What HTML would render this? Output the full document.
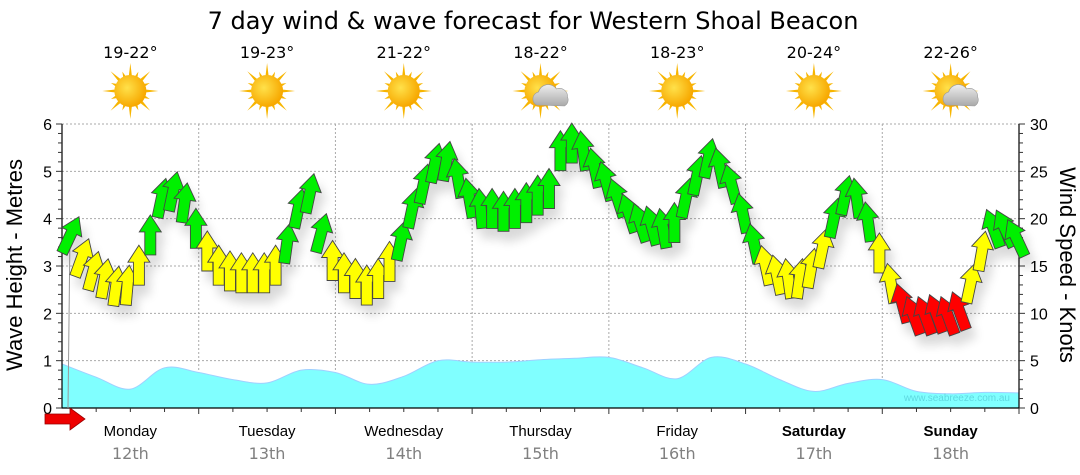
<!DOCTYPE html>
<html><head><meta charset="utf-8">
<style>
html,body{margin:0;padding:0;background:#fff;width:1080px;height:475px;overflow:hidden}
svg{display:block}
text{font-family:"Liberation Sans",sans-serif}
.dv{font-family:"DejaVu Sans","Liberation Sans",sans-serif}
</style></head>
<body>
<svg id="chart" width="1080" height="475" xmlns="http://www.w3.org/2000/svg">
<defs>
<radialGradient id="sunG" cx="40%" cy="40%" r="60%"><stop offset="0" stop-color="#ffe14a"/><stop offset="1" stop-color="#f7a800"/></radialGradient>
<linearGradient id="cloudG" x1="0" y1="0" x2="0" y2="1"><stop offset="0" stop-color="#eeeeee"/><stop offset="1" stop-color="#a9a9a9"/></linearGradient>
<filter id="sh" x="-50%" y="-50%" width="200%" height="200%"><feGaussianBlur in="SourceAlpha" stdDeviation="5"/><feOffset dx="5" dy="10"/><feComponentTransfer><feFuncA type="linear" slope="0.15"/></feComponentTransfer><feMerge><feMergeNode/><feMergeNode in="SourceGraphic"/></feMerge></filter>
</defs>
<text class="dv" x="533" y="29" font-size="24" text-anchor="middle" fill="#000">7 day wind &amp; wave forecast for Western Shoal Beacon</text>
<g id="grid"></g>
<g id="wave"></g>
<text x="1010" y="401" font-size="10" text-anchor="end" fill="#5fd8e0">www.seabreeze.com.au</text>
<g id="axes"></g>
<g id="wind" filter="url(#sh)"></g>
<g id="topg"></g>
<text transform="translate(22,265) rotate(-90)" font-size="22" text-anchor="middle">Wave Height - Metres</text>
<text transform="translate(1060,265) rotate(90)" font-size="22" text-anchor="middle">Wind Speed - Knots</text>
<polygon points="45,414 70,414 70,408 85,419 70,430 70,424 45,424" fill="#e00" stroke="#900" stroke-width="0.8"/>
</svg>
<script>
const days=["Monday","Tuesday","Wednesday","Thursday","Friday","Saturday","Sunday"];
const dates=["12th","13th","14th","15th","16th","17th","18th"];
const temps=["19-22°","19-23°","21-22°","18-22°","18-23°","20-24°","22-26°"];
const cloudy=[false,false,false,true,false,false,true];
const waveH=[0.93,0.65,0.4,0.85,0.75,0.6,0.53,0.8,0.75,0.5,0.67,1.0,0.97,0.97,1.02,1.05,1.07,0.85,0.62,1.07,0.93,0.6,0.35,0.52,0.6,0.35,0.3,0.33,0.32];
const windKn=[18.6,16.2,14.8,14,13.2,13.3,15.4,18.6,22.5,23.2,22,19.3,
16.9,15.4,14.8,14.6,14.6,14.6,15.4,17.7,21.4,23,18.8,15.9,
14.6,14,13.3,14,15.8,18,21.4,24,26.2,26.4,24.6,22.5,
21.4,21.4,21.1,21.4,22,22.8,23.5,27.5,28.3,27.5,25.7,24.3,
22.5,20.9,19.9,19.6,19.3,19.9,22.5,24.9,26.7,25.7,24,20.9,
17.7,15.4,14.4,14,14,15.1,17.2,20.4,22.8,22.5,20,16.7,
13.5,11.4,10.1,10.1,10.3,10.1,10.6,13.5,16.9,19.3,19.3,18.3];
const windDir=[25,20,15,10,8,5,0,0,12,12,8,0,
0,0,0,0,0,0,0,8,12,12,15,0,
0,0,0,0,0,12,12,12,12,10,-10,-10,
-5,0,0,0,0,0,0,0,0,-8,-12,-15,
-18,-18,-18,-15,-10,0,12,12,12,-12,-15,-12,
-12,-12,-12,-8,8,10,12,12,12,-8,-8,0,
-10,-15,-20,-20,-20,-20,-20,12,10,-20,-25,-25];
const waveMax=6, windMax=30;
(function(){
const X0=62, X1=1019, Y0=408, Y1=124;
const dayW=(X1-X0)/7;
const yW=v=>Y0-(v/waveMax)*(Y0-Y1);
const yK=v=>Y0-(v/windMax)*(Y0-Y1);
const xH=h=>X0+h/24*dayW;
const NS="http://www.w3.org/2000/svg";
function mk(tag,attrs,parent){const e=document.createElementNS(NS,tag);for(const k in attrs)e.setAttribute(k,attrs[k]);parent.appendChild(e);return e;}
const grid=document.getElementById('grid'),axes=document.getElementById('axes'),wave=document.getElementById('wave'),wind=document.getElementById('wind'),topg=document.getElementById('topg');
for(let v=1;v<=6;v++){const l=mk('line',{x1:X0,x2:X1,y1:yW(v),y2:yW(v),stroke:'#aaa','stroke-dasharray':'2,2','stroke-width':1},grid);

}
for(let d=1;d<7;d++){const l=mk('line',{x1:X0+d*dayW,x2:X0+d*dayW,y1:Y1,y2:Y0,stroke:'#aaa','stroke-dasharray':'2,2','stroke-width':1},grid);

}
// smooth wave path (Catmull-Rom)
const pts=waveH.map((v,i)=>[xH(i*6),yW(v)]);
let d='M'+X0+','+Y0+' L'+pts[0][0]+','+pts[0][1];
for(let i=0;i<pts.length-1;i++){const p0=pts[Math.max(0,i-1)],p1=pts[i],p2=pts[i+1],p3=pts[Math.min(pts.length-1,i+2)];
const c1=[p1[0]+(p2[0]-p0[0])/6,p1[1]+(p2[1]-p0[1])/6],c2=[p2[0]-(p3[0]-p1[0])/6,p2[1]-(p3[1]-p1[1])/6];
d+=` C${c1[0].toFixed(1)},${c1[1].toFixed(1)} ${c2[0].toFixed(1)},${c2[1].toFixed(1)} ${p2[0].toFixed(1)},${p2[1].toFixed(1)}`;}
d+=' L'+X1+','+Y0+' Z';
const wp=mk('path',{d:d,fill:'#80ffff',stroke:'#9fd0ff','stroke-width':1},wave);


const ax=mk('path',{d:`M${X0},${Y1} V${Y0} H${X1} V${Y1}`,fill:'none',stroke:'#000','stroke-width':1.2},axes);


for(let v=0;v<=30;v++){const y=Y0-v/30*(Y0-Y1);const maj=v%5==0;
mk('line',{x1:X0-(maj?6:4),x2:X0,y1:y,y2:y,stroke:'#333','stroke-width':1},axes);
mk('line',{x1:X1,x2:X1+(maj?6:4),y1:y,y2:y,stroke:'#333','stroke-width':1},axes);}
for(let v=0;v<=6;v++){const t=mk('text',{x:X0-10,y:yW(v)+6,'font-size':16,'text-anchor':'end'},axes);t.textContent=v;

}
for(let v=0;v<=30;v+=5){const t=mk('text',{x:X1+11,y:yK(v)+6,'font-size':16},axes);t.textContent=v;

}
for(let h=6;h<=168;h+=6){const x=xH(h);mk('line',{x1:x,x2:x,y1:Y0,y2:Y0+(h%24==0?6:4),stroke:'#333','stroke-width':1},axes);}
days.forEach((nm,i)=>{const cx=X0+(i+0.5)*dayW;const we=i>=5;
const t=mk('text',{x:cx,y:436,'font-size':15,'text-anchor':'middle','font-weight':we?'bold':'normal'},axes);t.textContent=nm;


const t2=mk('text',{x:cx,y:459,'font-size':16,'text-anchor':'middle',fill:'#808080','class':'dv'},axes);t2.textContent=dates[i];


const t3=mk('text',{x:cx,y:58,'font-size':16,'text-anchor':'middle','class':'dv'},topg);t3.textContent=temps[i];


const g=mk('g',{transform:`translate(${cx},91)`},topg);


for(let a=0;a<16;a++){const ang=a*22.5*Math.PI/180;const L=a%2?21:28;
mk('polygon',{points:`${Math.cos(ang)*L},${Math.sin(ang)*L} ${Math.cos(ang+0.12)*14},${Math.sin(ang+0.12)*14} ${Math.cos(ang-0.12)*14},${Math.sin(ang-0.12)*14}`,fill:'#f7b500'},g);}
mk('circle',{r:16,fill:'url(#sunG)'},g);
if(cloudy[i]){mk('path',{d:'M-4,14 a7,7 0 0 1 2,-13 a10,10 0 0 1 18,-3 a8,8 0 0 1 11,8 a7,7 0 0 1 -3,9 Z',fill:'url(#cloudG)',stroke:'#999','stroke-width':0.6},g);}
});
const gl=mk('polyline',{points:`${X0+6},${Y0} ${xH(0)+8},${yK(windKn[0])}`,fill:'none',stroke:'#999','stroke-width':1},axes);


windKn.forEach((v,i)=>{const x=xH(1.5+i*2),y=yK(v)+3;
const col=v<11.5?'#ff0000':(v<17.5?'#ffff00':'#00f000');
const p=mk('polygon',{points:'-5.5,20 -5.5,-3 -11,-3 0,-20 11,-3 5.5,-3 5.5,20',fill:col,stroke:'#444','stroke-width':0.9,transform:`translate(${x.toFixed(1)},${y.toFixed(1)}) rotate(${windDir[i]})`},wind);

});
})();
</script>
</body></html>
